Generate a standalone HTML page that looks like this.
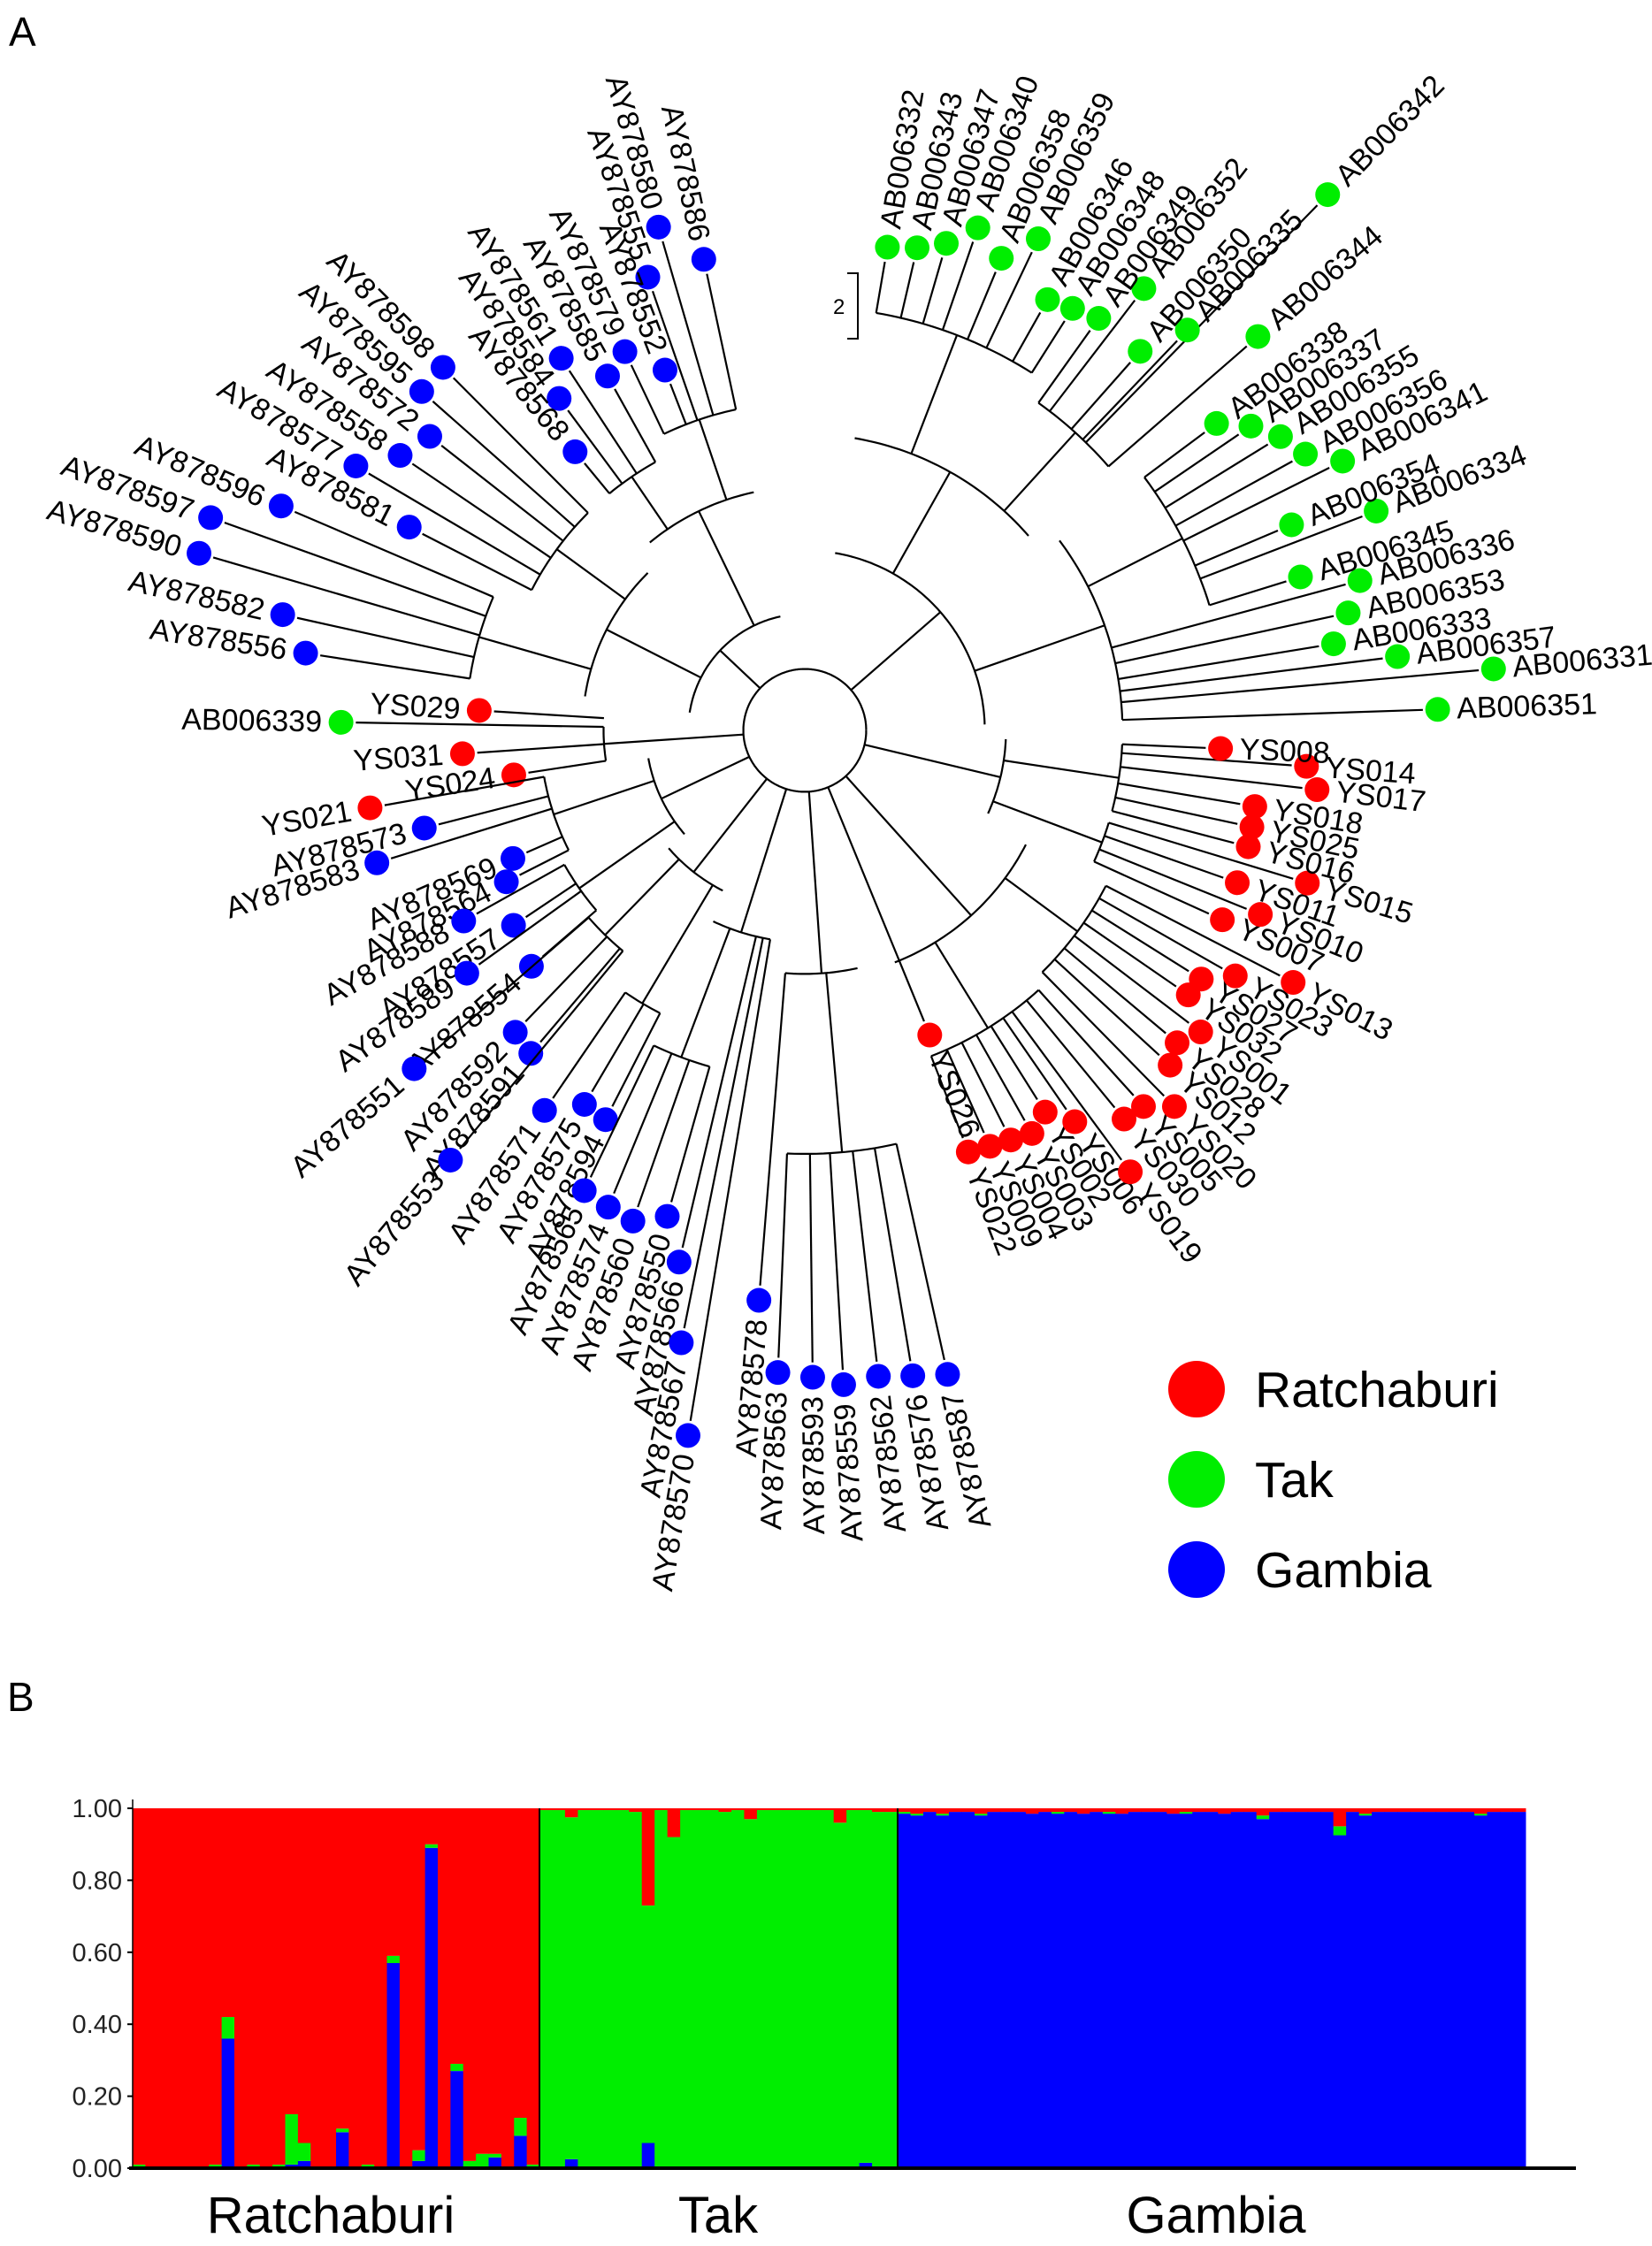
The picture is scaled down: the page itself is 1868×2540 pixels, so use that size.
<!DOCTYPE html>
<html><head><meta charset="utf-8"><title>Phylogenetic tree and structure plot</title>
<style>
html,body{margin:0;padding:0;background:#fff;}
svg{display:block;font-family:"Liberation Sans",Arial,sans-serif;}
</style></head>
<body>
<svg id="fig" width="1868" height="2540" viewBox="0 0 1868 2540" xmlns="http://www.w3.org/2000/svg">
<text x="10" y="52" font-size="46">A</text>
<text x="8" y="1935" font-size="46">B</text>
<g id="tree"></g>
<g id="legend">
  <circle cx="1353" cy="1571" r="32" fill="#ff0000"/>
  <text x="1419" y="1591" font-size="57">Ratchaburi</text>
  <circle cx="1353" cy="1673" r="32" fill="#00ee00"/>
  <text x="1419" y="1693" font-size="57">Tak</text>
  <circle cx="1353" cy="1775" r="32" fill="#0000ff"/>
  <text x="1419" y="1795" font-size="57">Gambia</text>
</g>
<g>
  <path d="M958 309 H970 V383 H958" fill="none" stroke="#000" stroke-width="2"/>
  <text x="942" y="355" font-size="24">2</text>
</g>
<g id="bars"></g>
</svg>
<script>
// ---------- Tree data ----------
const leafNames = ["AY878586","AY878580","AY878555","AY878552","AY878579","AY878585","AY878561","AY878584","AY878568","AY878598","AY878595","AY878572","AY878558","AY878577","AY878581","AY878596","AY878597","AY878590","AY878582","AY878556",
"AB006339","YS029","YS031","YS024",
"YS021","AY878573","AY878583","AY878569","AY878564","AY878588","AY878557","AY878589","AY878554",
"AY878551","AY878592","AY878591","AY878553","AY878571","AY878575","AY878594",
"AY878565","AY878574","AY878560","AY878550","AY878566","AY878567","AY878570",
"AY878578","AY878563","AY878593","AY878559","AY878562","AY878576","AY878587",
"YS026",
"YS022","YS009","YS004","YS003","YS002","YS006","YS019","YS030","YS005","YS020","YS012","YS028","YS001","YS032","YS027","YS023","YS013",
"YS007","YS010","YS011","YS015","YS016","YS025","YS018","YS017","YS014","YS008",
"AB006351","AB006331","AB006357","AB006333","AB006353","AB006336","AB006345","AB006334","AB006354","AB006341","AB006356","AB006355","AB006337","AB006338","AB006344","AB006342","AB006335","AB006350","AB006352","AB006349","AB006348","AB006346","AB006359","AB006358","AB006340","AB006347","AB006343","AB006332"];
const leafAngles = [-102.1,-106.2,-109.1,-111.2,-115.4,-119.1,-123.2,-126.5,-129.5,-134.9,-138.5,-141.9,-145.8,-149.5,-152.8,-156.8,-160.3,-163.7,-167.5,-171.2,
-179,-176.5,176.1,171.3,
169.9,165.6,162.8,156.3,153.1,150.8,146.2,144.3,139.2,
139.1,133.8,130.3,129.5,124.4,120.5,117.1,
115.6,112.4,109.3,105.8,103.3,101.4,99.4,
94.6,92.4,89.3,86.6,83.5,80.5,77.5,
67.7,
68.8,66.0,63.3,60.6,57.8,55.4,53.6,50.6,48.0,45.5,42.5,40.0,37.3,34.6,32.1,29.7,27.3,
24.4,22.0,19.4,16.9,14.7,12.2,9.6,6.6,4.1,2.5,
-1.9,-5.1,-7.1,-9.3,-12.2,-15.1,-17.2,-21.0,-22.9,-26.6,-28.9,-31.7,-34.3,-36.7,-41.0,-45.7,-46.3,-48.5,-52.5,-54.5,-57.6,-60.6,-64.6,-67.4,-71.0,-73.8,-76.9,-80.3];
const leafDepths = [455,495,453,365,396,383,420,390,341,484,483,450,462,492,420,538,596,596,505,477,
438,308,324,278,
417,371,423,301,316,369,331,393,341,
488,395,400,526,435,410,413,
482,487,491,477,516,590,675,
540,607,611,619,614,618,623,
311,
427,430,433,437,426,449,518,475,478,498,468,459,470,440,442,468,519,
433,464,433,496,433,432,431,487,475,393,
598,653,564,506,525,543,490,578,499,568,540,528,510,485,567,707,523,478,526,478,472,467,514,483,502,479,468,463];
const leafGroup = "GGGGGGGGGGGGGGGGGGGG" + "TRRR" + "RGGGGGGGG" + "GGGGGGG" + "GGGGGGG" + "GGGGGGG" + "R" + "RRRRRRRRRRRRRRRRR" + "RRRRRRRRRR" + "TTTTTTTTTTTTTTTTTTTTTTTTTTTT";
// clusters: [firstLeaf, lastLeaf, nodeDepth]
const clusterStart = [0,0,9,0,5,9,15,20,24,24,29,33,33,37,40,40,47,48,54,55,55,64,72,72,76,82,82,88,96,96,102];
const clusterEnd   = [19,8,19,4,8,14,19,23,32,28,32,39,36,39,46,43,53,53,54,71,63,71,81,75,81,109,95,95,109,101,109];
const clusterDepth = [110,230,210,310,290,290,320,190,150,250,260,170,270,300,200,330,230,400,58,235,330,320,190,300,300,170,300,400,280,380,400];

const CX = 910, CY = 826, INNER = 58;
const rScale = v => v * 1.1974;
const colorOf = g => g === "R" ? "#ff0000" : g === "T" ? "#00ee00" : "#0000ff";
const NS = "http://www.w3.org/2000/svg";
const tree = document.getElementById("tree");

const unwrapped = [];
leafAngles.forEach((a, i) => {
  let v = a;
  if (i > 0) { while (v > unwrapped[i-1] + 180) v -= 360; while (v < unwrapped[i-1] - 180) v += 360; }
  unwrapped.push(v);
});
function pt(angle, depth) {
  const t = angle * Math.PI / 180, r = rScale(depth);
  return [CX + r * Math.cos(t), CY + r * Math.sin(t)];
}
function addPath(d, name) {
  const p = document.createElementNS(NS, "path");
  p.setAttribute("d", d);
  p.setAttribute("fill", "none");
  p.setAttribute("stroke", "#000");
  p.setAttribute("stroke-width", "2.2");
  
  
  tree.appendChild(p);
}
function arcD(a1, a2, depth) {
  const n = Math.max(2, Math.ceil(Math.abs(a2 - a1)));
  let d = "";
  for (let k = 0; k <= n; k++) {
    const [x, y] = pt(a1 + (a2 - a1) * k / n, depth);
    d += (k ? "L" : "M") + x.toFixed(1) + " " + y.toFixed(1);
  }
  return d;
}
addPath(arcD(0, 359.9, INNER), "tree-root-circle");
clusterStart.forEach((s, c) => {
  const e = clusterEnd[c];
  const a1 = unwrapped[s], a2 = unwrapped[e], mid = (a1 + a2) / 2;
  let parent = INNER;
  clusterStart.forEach((s2, c2) => {
    if (c2 !== c && s2 <= s && clusterEnd[c2] >= e && (clusterEnd[c2] - s2) > (e - s) && clusterDepth[c2] > parent && clusterDepth[c2] < clusterDepth[c]) parent = clusterDepth[c2];
  });
  const [x1, y1] = pt(mid, parent), [x2, y2] = pt(mid, clusterDepth[c]);
  addPath(`M${x1} ${y1}L${x2} ${y2}`, "tree-branch");
  if (e > s) addPath(arcD(a1, a2, clusterDepth[c]), "tree-node-arc");
});
leafNames.forEach((name, i) => {
  let attach = INNER;
  clusterStart.forEach((s, c) => { if (s <= i && clusterEnd[c] >= i && clusterDepth[c] > attach && clusterDepth[c] < leafDepths[i] - 20) attach = clusterDepth[c]; });
  const a = unwrapped[i], depth = leafDepths[i];
  const [x1, y1] = pt(a, attach), [x2, y2] = pt(a, depth - 14);
  addPath(`M${x1} ${y1}L${x2} ${y2}`, "leaf-branch");
  const [dx, dy] = pt(a, depth);
  const c = document.createElementNS(NS, "circle");
  c.setAttribute("cx", dx); c.setAttribute("cy", dy); c.setAttribute("r", 14);
  c.setAttribute("fill", colorOf(leafGroup[i]));
  
  
  tree.appendChild(c);
  const [tx, ty] = pt(a, depth + 18);
  const t = document.createElementNS(NS, "text");
  let na = ((leafAngles[i] % 360) + 360) % 360; if (na > 180) na -= 360;
  const right = na > -95 && na < 72;
  t.setAttribute("x", tx); t.setAttribute("y", ty);
  t.setAttribute("font-size", "34");
  t.setAttribute("dominant-baseline", "central");
  t.setAttribute("text-anchor", right ? "start" : "end");
  t.setAttribute("transform", `rotate(${right ? na : na + 180} ${tx} ${ty})`);
  t.textContent = name;
  
  
  tree.appendChild(t);
});

// ---------- Structure bar chart data ----------
const groupNames = ["Ratchaburi", "Tak", "Gambia"];
const ratBlue  = [0,0,0,0,0,0,0,0.36,0,0,0,0,0.01,0.02,0,0,0.10,0,0,0,0.57,0,0.02,0.89,0,0.27,0,0,0.03,0,0.09,0];
const ratGreen = [0.01,0,0,0,0,0,0.01,0.06,0,0.01,0,0.01,0.14,0.05,0,0,0.01,0,0.01,0,0.02,0,0.03,0.01,0,0.02,0.02,0.04,0.01,0,0.05,0.01];
const takBlue  = [0,0,0.025,0,0,0,0,0,0.07,0,0,0,0,0,0,0,0,0,0,0,0,0,0,0,0,0.015,0,0];
const takRed   = [0.005,0.005,0.025,0.005,0.005,0.005,0.005,0.01,0.27,0.005,0.08,0.005,0.005,0.005,0.01,0.005,0.03,0.005,0.005,0.005,0.005,0.005,0.005,0.04,0.005,0.005,0.01,0.01];
const gamRed   = [0.01,0.015,0.01,0.015,0.01,0.01,0.015,0.01,0.01,0.01,0.015,0.01,0.01,0.01,0.015,0.01,0.01,0.015,0.01,0.01,0.01,0.015,0.01,0.01,0.01,0.015,0.01,0.01,0.02,0.01,0.01,0.01,0.01,0.01,0.05,0.01,0.015,0.01,0.01,0.01,0.01,0.01,0.01,0.01,0.01,0.015,0.01,0.01,0.01];
const gamGreen = [0.005,0.005,0,0.005,0,0,0.005,0,0,0,0,0,0.005,0,0,0,0.005,0,0,0,0,0,0.005,0,0,0,0,0,0.01,0,0,0,0,0,0.025,0,0.005,0,0,0,0,0,0,0,0,0.005,0,0,0];
const yTicks = [0, 0.2, 0.4, 0.6, 0.8, 1.0];
const yTickLabels = ["0.00","0.20","0.40","0.60","0.80","1.00"];

const PX0 = 150, Y0 = 2452, Y1 = 2045;
const groupBounds = [150, 610, 1015, 1725];
const yScale = v => Y0 - v * (Y0 - Y1);
const bars = document.getElementById("bars");
function rect(x, y, w, h, fill, name) {
  if (h <= 0) return;
  const r = document.createElementNS(NS, "rect");
  r.setAttribute("x", x); r.setAttribute("y", y); r.setAttribute("width", w); r.setAttribute("height", h);
  r.setAttribute("fill", fill);
  
  
  bars.appendChild(r);
}
function drawGroup(g, blue, green, red) {
  const n = blue.length, x0 = groupBounds[g], w = (groupBounds[g+1] - x0) / n;
  for (let i = 0; i < n; i++) {
    const b = blue[i], gr = green[i], r = red[i];
    const x = x0 + i * w;
    rect(x, yScale(b), w + 0.5, yScale(0) - yScale(b), "#0000ff", "bar-blue");
    rect(x, yScale(b + gr), w + 0.5, yScale(b) - yScale(b + gr), "#00ee00", "bar-green");
    rect(x, yScale(b + gr + r), w + 0.5, yScale(b + gr) - yScale(b + gr + r), "#ff0000", "bar-red");
  }
}
drawGroup(0, ratBlue, ratGreen, ratBlue.map((b, i) => 1 - b - ratGreen[i]));
drawGroup(1, takBlue, takBlue.map((b, i) => 1 - b - takRed[i]), takRed);
drawGroup(2, gamRed.map((r, i) => 1 - r - gamGreen[i]), gamGreen, gamRed);

function line(x1, y1, x2, y2, w, name) {
  const l = document.createElementNS(NS, "line");
  l.setAttribute("x1", x1); l.setAttribute("y1", y1); l.setAttribute("x2", x2); l.setAttribute("y2", y2);
  l.setAttribute("stroke", "#000"); l.setAttribute("stroke-width", w);
  
  
  bars.appendChild(l);
}
line(groupBounds[1], Y1, groupBounds[1], Y0, 2, "group-divider");
line(groupBounds[2], Y1, groupBounds[2], Y0, 2, "group-divider");
line(PX0 - 4, Y0, 1782, Y0, 4, "x-axis-line");
line(PX0, Y1 - 10, PX0, Y0, 1.5, "y-axis-line");
yTicks.forEach((v, i) => {
  line(PX0 - 6, yScale(v), PX0, yScale(v), 2, "y-tick");
  const t = document.createElementNS(NS, "text");
  t.setAttribute("x", PX0 - 12); t.setAttribute("y", yScale(v) + 10);
  t.setAttribute("font-size", "29"); t.setAttribute("text-anchor", "end"); t.setAttribute("fill", "#222");
  t.textContent = yTickLabels[i];
  
  
  bars.appendChild(t);
});
const groupCenters = [374, 812, 1375];
groupNames.forEach((nm, i) => {
  const t = document.createElementNS(NS, "text");
  t.setAttribute("x", groupCenters[i]); t.setAttribute("y", 2525);
  t.setAttribute("font-size", "58"); t.setAttribute("text-anchor", "middle");
  t.textContent = nm;
  
  
  bars.appendChild(t);
});
</script>
</body></html>
